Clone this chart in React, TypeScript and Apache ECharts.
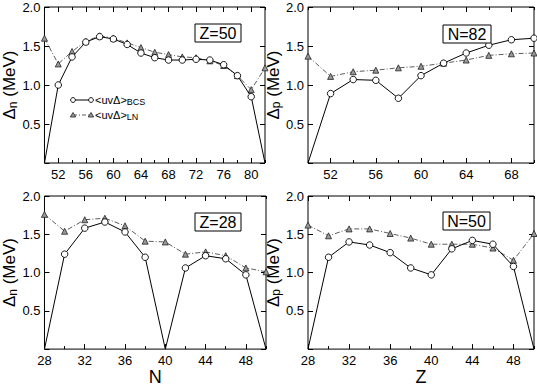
import React, { useEffect, useRef } from "react";
import * as echarts from "echarts";

// ---- Data ----
const nZ50 = [50, 52, 54, 56, 58, 60, 62, 64, 66, 68, 70, 72, 74, 76, 78, 80, 82];
const bcsZ50 = [0, 1.0, 1.36, 1.55, 1.62, 1.59, 1.52, 1.41, 1.35, 1.32, 1.32, 1.33, 1.32, 1.26, 1.12, 0.85, 0];
const lnZ50 = [1.6, 1.27, 1.43, 1.56, 1.63, 1.6, 1.54, 1.48, 1.42, 1.39, 1.36, 1.35, 1.31, 1.25, 1.12, 0.94, 1.22];

const zN82 = [50, 52, 54, 56, 58, 60, 62, 64, 66, 68, 70];
const bcsN82 = [0, 0.89, 1.07, 1.06, 0.83, 1.12, 1.28, 1.41, 1.51, 1.58, 1.6];
const lnN82 = [1.37, 1.11, 1.17, 1.19, 1.22, 1.24, 1.28, 1.32, 1.38, 1.4, 1.41];

const nZ28 = [28, 30, 32, 34, 36, 38, 40, 42, 44, 46, 48, 50];
const bcsZ28 = [0, 1.24, 1.58, 1.66, 1.53, 1.2, 0, 1.06, 1.22, 1.18, 0.97, 0];
const lnZ28 = [1.76, 1.54, 1.69, 1.71, 1.61, 1.41, 1.4, 1.24, 1.27, 1.22, 1.06, 1.01];

const zN50 = [28, 30, 32, 34, 36, 38, 40, 42, 44, 46, 48, 50];
const bcsN50 = [0, 1.2, 1.4, 1.36, 1.26, 1.06, 0.97, 1.31, 1.42, 1.37, 1.08, 0];
const lnN50 = [1.62, 1.48, 1.57, 1.57, 1.51, 1.45, 1.37, 1.37, 1.37, 1.32, 1.16, 1.51];

const majorTop1 = [52, 56, 60, 64, 68, 72, 76, 80];
const minorTop1 = [50, 54, 58, 62, 66, 70, 74, 78, 82];
const majorTop2 = [52, 56, 60, 64, 68];
const minorTop2 = [50, 54, 58, 62, 66, 70];
const majorBot = [28, 32, 36, 40, 44, 48];
const minorBot = [30, 34, 38, 42, 46, 50];

const panelLabels = ["Z=50", "N=82", "Z=28", "N=50"];
const yNames = ["n", "p", "n", "p"];
const xNames = ["", "", "N", "Z"];

const FONT = "'Liberation Sans', Arial, Helvetica, sans-serif";

export default function App() {
  const ref = useRef<HTMLDivElement>(null);
  useEffect(() => {
    if (!ref.current) return;
    const chart = echarts.init(ref.current, undefined, { renderer: "svg" });

    const panels = [
      { x: nZ50, bcs: bcsZ50, ln: lnZ50, min: 50, max: 82, major: majorTop1, minor: minorTop1 },
      { x: zN82, bcs: bcsN82, ln: lnN82, min: 50, max: 70, major: majorTop2, minor: minorTop2 },
      { x: nZ28, bcs: bcsZ28, ln: lnZ28, min: 28, max: 50, major: majorBot, minor: minorBot },
      { x: zN50, bcs: bcsN50, ln: lnN50, min: 28, max: 50, major: majorBot, minor: minorBot },
    ];
    const grids = [
      { left: 40, top: 7, width: 225, height: 156 },
      { left: 308, top: 7, width: 226, height: 156 },
      { left: 40, top: 196, width: 226, height: 157 },
      { left: 308, top: 196, width: 226, height: 157 },
    ];

    const xAxis: any[] = [];
    const yAxis: any[] = [];
    const series: any[] = [];
    const graphic: any[] = [];

    panels.forEach((p, gi) => {
      const base = {
        gridIndex: gi,
        type: "value",
        min: p.min,
        max: p.max,
        axisLine: { show: false },
        splitLine: { show: false },
      };
      const mainIdx = xAxis.length;
      xAxis.push({
        ...base,
        position: "bottom",
        axisTick: { inside: true, length: 5, customValues: p.major, lineStyle: { color: "#000" } },
        axisLabel: { customValues: p.major, color: "#000", fontSize: 13, fontFamily: FONT, margin: 5 },
        name: xNames[gi],
        nameLocation: "middle",
        nameGap: 17,
        nameTextStyle: { fontSize: 18, fontFamily: FONT, color: "#000" },
      });
      xAxis.push({
        ...base,
        position: "bottom",
        axisTick: { inside: true, length: 3, customValues: p.minor, lineStyle: { color: "#000" } },
        axisLabel: { show: false },
      });
      xAxis.push({
        ...base,
        position: "top",
        axisTick: { inside: true, length: 5, customValues: p.major, lineStyle: { color: "#000" } },
        axisLabel: { show: false },
      });
      xAxis.push({
        ...base,
        position: "top",
        axisTick: { inside: true, length: 3, customValues: p.minor, lineStyle: { color: "#000" } },
        axisLabel: { show: false },
      });
      const yIdx = yAxis.length;
      yAxis.push({
        gridIndex: gi,
        type: "value",
        min: 0,
        max: 2,
        interval: 0.5,
        position: "left",
        axisLine: { show: false },
        splitLine: { show: false },
        axisTick: { inside: true, length: 5, lineStyle: { color: "#000" } },
        axisLabel: {
          color: "#000",
          fontSize: 13,
          fontFamily: FONT,
          margin: 4,
          formatter: (v: number) => (v === 0 ? "" : v.toFixed(1)),
        },
        name: `{a|Δ}{s|${yNames[gi]}}{a| (MeV)}`,
        nameLocation: "middle",
        nameRotate: 90,
        nameGap: 25,
        nameTextStyle: {
          rich: {
            a: { fontSize: 17, fontFamily: FONT, color: "#000", lineHeight: 18 },
            s: { fontSize: 12, fontFamily: FONT, color: "#000", lineHeight: 12, verticalAlign: "bottom" },
          },
        },
      });
      yAxis.push({
        gridIndex: gi,
        type: "value",
        min: 0,
        max: 2,
        interval: 0.5,
        position: "right",
        axisLine: { show: false },
        splitLine: { show: false },
        axisTick: { inside: true, length: 5, lineStyle: { color: "#000" } },
        axisLabel: { show: false },
      });

      series.push({
        type: "line",
        name: "BCS",
        xAxisIndex: mainIdx,
        yAxisIndex: yIdx,
        clip: false,
        data: p.x.map((xv, i) =>
          p.bcs[i] === 0 ? { value: [xv, p.bcs[i]], symbol: "none" } : { value: [xv, p.bcs[i]] }
        ),
        symbol: "circle",
        symbolSize: 6.5,
        showAllSymbol: true,
        itemStyle: { color: "#fff", borderColor: "#000", borderWidth: 0.9 },
        lineStyle: { color: "#000", width: 1 },
        z: 3,
      });
      series.push({
        type: "line",
        name: "LN",
        xAxisIndex: mainIdx,
        yAxisIndex: yIdx,
        clip: false,
        data: p.x.map((xv, i) => [xv, p.ln[i]]),
        symbol: "triangle",
        symbolSize: 6,
        showAllSymbol: true,
        itemStyle: { color: "#999", borderColor: "#222", borderWidth: 0.8 },
        lineStyle: { color: "#333", width: 0.8, type: [5, 2, 1, 2] },
        z: 2,
      });
    });

    // panel labels
    const boxes = [
      { x: 195, y: 24, w: 46, h: 18 },
      { x: 443, y: 25, w: 48, h: 18 },
      { x: 195, y: 213, w: 46, h: 18 },
      { x: 443, y: 212, w: 47, h: 18 },
    ];
    boxes.forEach((b, i) => {
      graphic.push({
        type: "rect",
        shape: { x: b.x, y: b.y, width: b.w, height: b.h },
        style: { fill: "#fff", stroke: "#000", lineWidth: 1 },
        z: 100,
      });
      graphic.push({
        type: "text",
        x: b.x + b.w / 2,
        y: b.y + b.h / 2 + 0.5,
        style: {
          text: panelLabels[i],
          fontSize: 16,
          fontFamily: FONT,
          fill: "#000",
          align: "center",
          verticalAlign: "middle",
        },
        z: 101,
      });
    });

    // legend
    graphic.push({
      type: "line",
      shape: { x1: 73, y1: 100, x2: 91, y2: 100 },
      style: { stroke: "#000", lineWidth: 1 },
      z: 100,
    });
    [73, 91].forEach((cx) =>
      graphic.push({
        type: "circle",
        shape: { cx, cy: 100, r: 2.4 },
        style: { fill: "#fff", stroke: "#000", lineWidth: 0.9 },
        z: 101,
      })
    );
    graphic.push({
      type: "line",
      shape: { x1: 73, y1: 115, x2: 91, y2: 115 },
      style: { stroke: "#333", lineWidth: 0.8, lineDash: [4, 2, 1, 2] },
      z: 100,
    });
    [73, 91].forEach((cx) =>
      graphic.push({
        type: "polygon",
        shape: { points: [[cx - 2.7, 117], [cx + 2.7, 117], [cx, 112.5]] },
        style: { fill: "#999", stroke: "#222", lineWidth: 0.8 },
        z: 101,
      })
    );
    const legendTexts = ["BCS", "LN"];
    legendTexts.forEach((sub, i) =>
      graphic.push({
        type: "text",
        x: 95,
        y: 100 + i * 15,
        style: {
          text: `{a|<uvΔ>}{s|${sub}}`,
          verticalAlign: "middle",
          rich: {
            a: { fontSize: 11, fontFamily: FONT, fill: "#000", lineHeight: 12 },
            s: { fontSize: 9, fontFamily: FONT, fill: "#000", lineHeight: 9, verticalAlign: "bottom" },
          },
        },
        z: 101,
      })
    );

    chart.setOption({
      animation: false,
      backgroundColor: "#fff",
      grid: grids.map((g) => ({
        ...g,
        show: true,
        borderColor: "#000",
        borderWidth: 1,
        backgroundColor: "transparent",
        containLabel: false,
      })),
      xAxis,
      yAxis,
      series,
      graphic,
    });
    return () => chart.dispose();
  }, []);

  return (
    <div
      ref={ref}
      style={{ position: "fixed", left: 0, top: 0, width: 537, height: 387, background: "#fff" }}
    />
  );
}
